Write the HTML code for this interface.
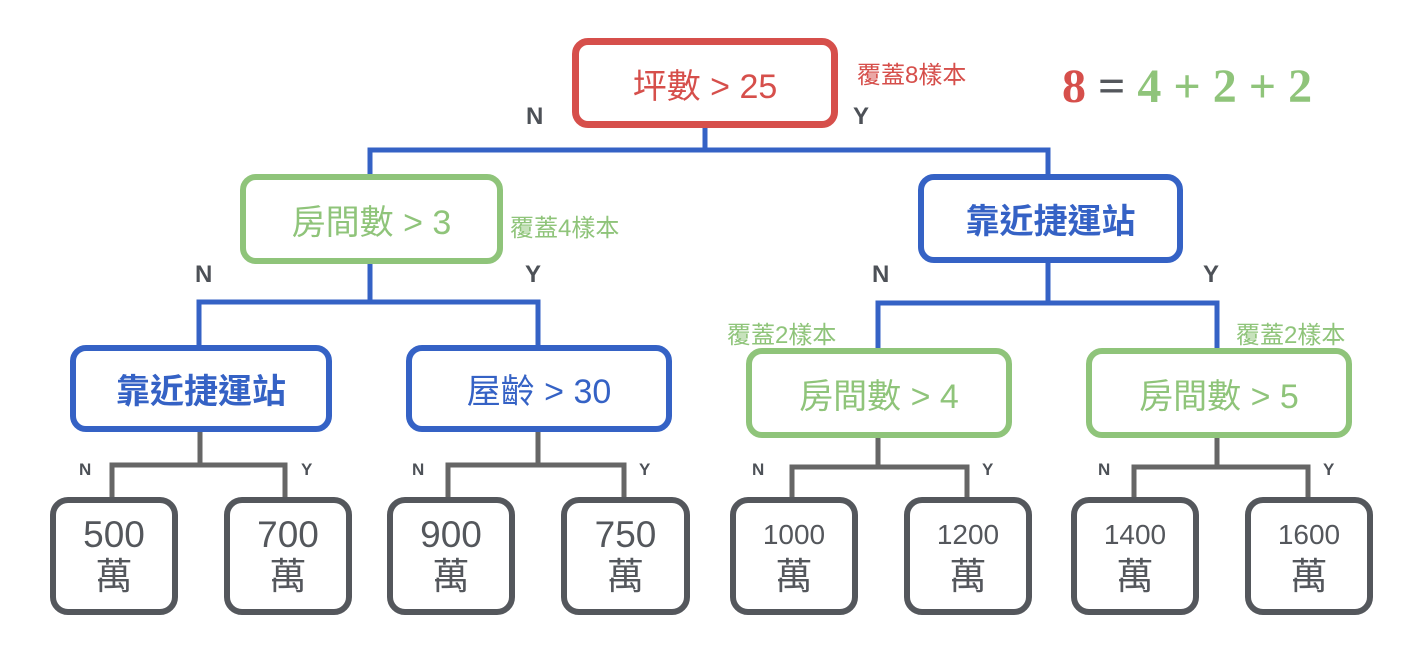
<!DOCTYPE html>
<html><head><meta charset="utf-8"><style>
body{margin:0;width:1418px;height:654px;background:#fff;position:relative;overflow:hidden;font-family:"Liberation Sans","Noto Sans CJK TC",sans-serif}
.b{position:absolute;box-sizing:border-box;border-radius:16px;display:flex;align-items:center;justify-content:center;font-size:34px;background:#fff}
.r{border:7px solid #d64f4b;color:#d64f4b}
.g{border:6px solid #8fc47a;color:#8fc47a}
.u{border:6px solid #3562c5;color:#3562c5;font-weight:bold}
.l{border:6px solid #54575c;color:#54575c;flex-direction:column;line-height:42px;border-radius:18px;font-size:37px}
.t{position:absolute;white-space:nowrap}
.ny{position:absolute;font-weight:bold;color:#4d5157;font-size:24px}
.s{position:absolute;font-weight:bold;color:#4d5157;font-size:17px}
.c{position:absolute;font-size:24px;white-space:nowrap}
</style></head><body>
<svg width="1418" height="654" style="position:absolute;left:0;top:0">
<g stroke="#3562c5" stroke-width="5" fill="none">
<polyline points="705,128 705,150"/><polyline points="370,176 370,150 1048,150 1048,178"/>
<polyline points="370,264 370,302"/><polyline points="199,346 199,302 538,302 538,346"/>
<polyline points="1048,263 1048,303"/><polyline points="878,349 878,303 1217,303 1217,349"/>
</g>
<g stroke="#666" stroke-width="5" fill="none">
<polyline points="200,432 200,465"/><polyline points="112,498 112,465 285,465 285,498"/>
<polyline points="538,432 538,465"/><polyline points="448,498 448,465 624,465 624,498"/>
<polyline points="878,438 878,467"/><polyline points="792,498 792,467 967,467 967,498"/>
<polyline points="1217,438 1217,467"/><polyline points="1134,498 1134,467 1308,467 1308,498"/>
</g></svg>
<div class="b r" style="left:572px;top:38px;width:266px;height:90px">坪數 &gt; 25</div>
<div class="b g" style="left:240px;top:174px;width:263px;height:90px">房間數 &gt; 3</div>
<div class="b u" style="left:918px;top:174px;width:265px;height:89px">靠近捷運站</div>
<div class="b u" style="left:70px;top:345px;width:262px;height:87px">靠近捷運站</div>
<div class="b u" style="left:406px;top:345px;width:266px;height:87px;font-weight:normal">屋齡 &gt; 30</div>
<div class="b g" style="left:746px;top:348px;width:266px;height:90px">房間數 &gt; 4</div>
<div class="b g" style="left:1086px;top:348px;width:266px;height:90px">房間數 &gt; 5</div>
<div class="b l" style="left:50px;top:497px;width:128px;height:118px"><span>500</span><span>萬</span></div>
<div class="b l" style="left:224px;top:497px;width:128px;height:118px"><span>700</span><span>萬</span></div>
<div class="b l" style="left:387px;top:497px;width:128px;height:118px"><span>900</span><span>萬</span></div>
<div class="b l" style="left:561px;top:497px;width:129px;height:118px"><span>750</span><span>萬</span></div>
<div class="b l" style="left:730px;top:497px;width:128px;height:118px"><span style="font-size:28px">1000</span><span>萬</span></div>
<div class="b l" style="left:904px;top:497px;width:128px;height:118px"><span style="font-size:28px">1200</span><span>萬</span></div>
<div class="b l" style="left:1071px;top:497px;width:128px;height:118px"><span style="font-size:28px">1400</span><span>萬</span></div>
<div class="b l" style="left:1245px;top:497px;width:128px;height:118px"><span style="font-size:28px">1600</span><span>萬</span></div>
<div class="c" style="left:857px;top:55px;color:#d64f4b">覆蓋8樣本</div>
<div class="c" style="left:510px;top:208px;color:#8fc47a">覆蓋4樣本</div>
<div class="c" style="left:727px;top:315px;color:#8fc47a">覆蓋2樣本</div>
<div class="c" style="left:1236px;top:315px;color:#8fc47a">覆蓋2樣本</div>
<div class="t" style="left:1062px;top:59px;font-family:'Liberation Serif',serif;font-weight:bold;font-size:48px"><span style="color:#d64f4b">8</span> <span style="color:#54575c">=</span> <span style="color:#8fc47a">4 + 2 + 2</span></div>
<div class="ny" style="left:526px;top:103px">N</div><div class="ny" style="left:853px;top:103px">Y</div>
<div class="ny" style="left:195px;top:261px">N</div><div class="ny" style="left:525px;top:261px">Y</div>
<div class="ny" style="left:872px;top:261px">N</div><div class="ny" style="left:1203px;top:261px">Y</div>
<div class="s" style="left:79px;top:460px">N</div><div class="s" style="left:301px;top:460px">Y</div>
<div class="s" style="left:412px;top:460px">N</div><div class="s" style="left:639px;top:460px">Y</div>
<div class="s" style="left:752px;top:460px">N</div><div class="s" style="left:982px;top:460px">Y</div>
<div class="s" style="left:1098px;top:460px">N</div><div class="s" style="left:1323px;top:460px">Y</div>
</body></html>
